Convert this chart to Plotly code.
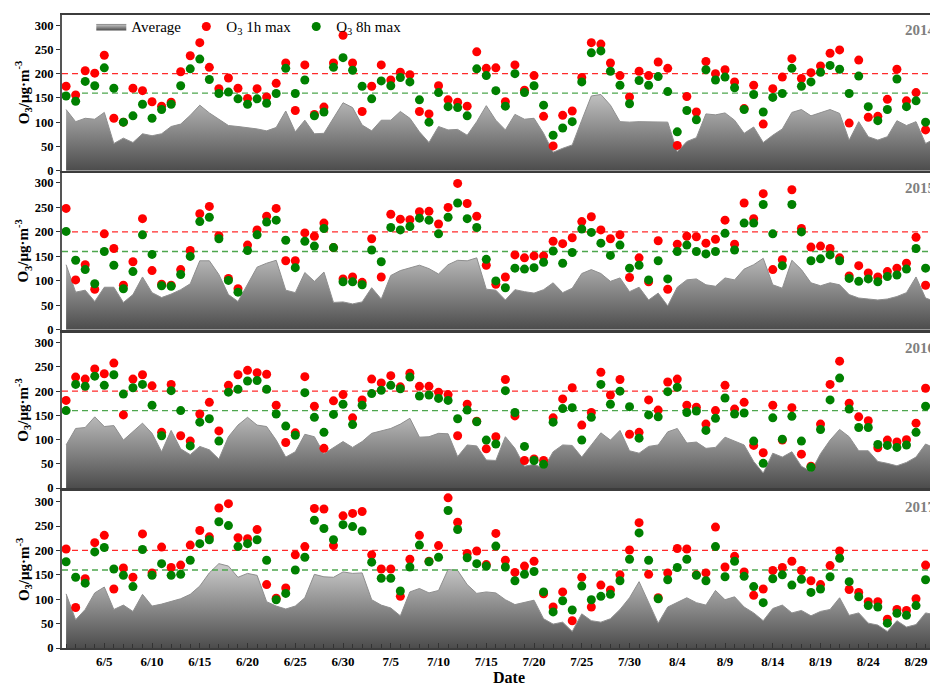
import pandas as pd
import plotly.graph_objects as go

# ---- data: daily O3 (µg/m³), 1 June – 31 August -------------------------
YEARS = [2014, 2015, 2016, 2017]
N_DAYS = 92

avg_2014 = [126, 101, 108, 106, 120, 56, 67, 58, 76, 72, 76, 91, 96, 114, 135, 119, 106, 93, 91, 89,
            86, 82, 89, 123, 80, 104, 76, 77, 108, 140, 130, 94, 82, 104, 104, 122, 108, 80, 58, 91,
            84, 85, 73, 101, 134, 104, 84, 116, 106, 108, 77, 38, 46, 53, 104, 154, 157, 135, 101, 100,
            101, 101, 101, 100, 39, 60, 68, 117, 115, 119, 104, 77, 90, 58, 73, 86, 120, 126, 113, 120,
            126, 118, 63, 101, 70, 63, 70, 103, 93, 101, 56, 66]
h1_2014 = [174, 156, 206, 201, 238, 108, 100, 170, 165, 142, 133, 141, 204, 237, 264, 213, 169, 191, 170, 149,
           169, 152, 180, 222, 124, 218, 116, 131, 222, 279, 222, 122, 174, 218, 187, 203, 198, 122, 117, 175,
           146, 141, 133, 245, 211, 212, 142, 218, 166, 196, 112, 51, 114, 123, 192, 264, 261, 222, 196, 152,
           205, 196, 224, 211, 52, 153, 121, 225, 200, 208, 183, 128, 176, 96, 169, 193, 231, 190, 202, 216,
           242, 249, 98, 228, 110, 112, 147, 209, 144, 161, 84, 110]
h8_2014 = [154, 143, 184, 175, 212, 170, 100, 113, 137, 108, 126, 137, 175, 210, 230, 188, 159, 162, 148, 137,
           148, 139, 159, 211, 159, 187, 113, 121, 213, 233, 207, 174, 148, 185, 175, 192, 183, 146, 100, 161,
           132, 130, 113, 210, 196, 165, 133, 200, 161, 175, 135, 73, 88, 101, 183, 243, 247, 205, 176, 138,
           186, 176, 194, 163, 80, 124, 105, 208, 187, 193, 171, 126, 157, 121, 151, 159, 211, 174, 183, 203,
           217, 209, 159, 195, 132, 103, 126, 189, 132, 144, 100, 95]

avg_2015 = [133, 77, 81, 58, 87, 87, 56, 72, 108, 76, 66, 73, 82, 94, 141, 141, 113, 72, 58, 92,
            128, 136, 142, 81, 76, 117, 99, 118, 56, 57, 53, 57, 86, 63, 111, 121, 126, 132, 125, 114,
            133, 142, 141, 147, 83, 81, 61, 82, 78, 75, 82, 96, 76, 85, 115, 123, 115, 99, 106, 78,
            87, 61, 75, 49, 87, 102, 104, 92, 89, 106, 102, 124, 133, 146, 92, 85, 142, 123, 96, 90,
            96, 92, 72, 65, 63, 61, 63, 68, 76, 108, 65, 58]
h1_2015 = [248, 102, 133, 83, 196, 166, 91, 139, 227, 121, 93, 91, 123, 162, 237, 252, 192, 105, 84, 173,
           204, 232, 248, 141, 141, 198, 191, 218, 168, 104, 108, 97, 186, 108, 236, 226, 225, 241, 242, 216,
           250, 299, 258, 232, 132, 93, 108, 153, 147, 151, 151, 181, 176, 188, 221, 231, 204, 186, 194, 107,
           147, 98, 182, 83, 175, 191, 190, 177, 185, 224, 175, 259, 227, 278, 123, 143, 286, 207, 169, 171,
           166, 147, 110, 131, 116, 108, 119, 126, 136, 189, 91, 150]
h8_2015 = [201, 142, 123, 94, 160, 132, 84, 119, 194, 154, 90, 89, 113, 150, 221, 230, 186, 101, 77, 162,
           194, 220, 224, 183, 127, 181, 171, 207, 168, 98, 98, 92, 163, 139, 209, 204, 211, 228, 224, 196,
           230, 259, 227, 209, 144, 100, 86, 126, 124, 127, 138, 161, 136, 158, 206, 199, 177, 152, 173, 126,
           132, 102, 141, 104, 160, 173, 160, 155, 160, 197, 163, 218, 218, 256, 196, 131, 256, 200, 141, 145,
           153, 141, 105, 99, 104, 98, 109, 112, 124, 166, 126, 130]

avg_2016 = [89, 123, 125, 147, 127, 129, 99, 116, 134, 113, 75, 119, 81, 69, 86, 79, 60, 106, 130, 146,
            130, 127, 99, 64, 75, 111, 106, 71, 84, 96, 84, 96, 113, 118, 123, 132, 144, 105, 106, 113,
            112, 65, 89, 87, 58, 57, 106, 82, 45, 49, 41, 75, 89, 88, 64, 89, 114, 99, 119, 77,
            72, 86, 89, 116, 123, 93, 95, 82, 84, 105, 97, 89, 55, 31, 72, 64, 75, 45, 34, 71,
            99, 121, 106, 77, 77, 55, 51, 46, 53, 64, 91, 82]
h1_2016 = [181, 229, 225, 246, 236, 258, 151, 225, 234, 211, 115, 214, 108, 97, 153, 177, 118, 212, 234, 243,
           238, 235, 171, 94, 114, 230, 169, 82, 180, 193, 145, 182, 225, 217, 232, 209, 237, 210, 210, 198,
           193, 108, 173, 138, 81, 106, 224, 149, 57, 60, 57, 145, 184, 207, 130, 156, 239, 192, 224, 111,
           115, 182, 161, 219, 225, 171, 167, 132, 160, 212, 163, 177, 88, 73, 171, 99, 166, 70, 45, 132,
           214, 262, 175, 147, 139, 83, 99, 95, 100, 134, 206, 170]
h8_2016 = [160, 214, 210, 231, 212, 234, 194, 207, 214, 171, 108, 201, 160, 87, 136, 143, 97, 198, 204, 221,
           222, 204, 153, 128, 109, 197, 146, 115, 152, 173, 131, 171, 195, 202, 212, 205, 229, 190, 192, 185,
           181, 143, 161, 137, 99, 91, 201, 156, 86, 57, 49, 136, 164, 166, 99, 146, 214, 173, 200, 168,
           103, 151, 147, 199, 208, 156, 159, 119, 144, 186, 153, 155, 97, 51, 145, 101, 148, 97, 43, 121,
           182, 227, 163, 125, 125, 90, 88, 84, 89, 115, 169, 150]

avg_2017 = [111, 58, 79, 113, 125, 79, 88, 75, 110, 86, 90, 96, 101, 110, 127, 154, 173, 168, 145, 153,
            149, 95, 86, 80, 86, 103, 151, 146, 145, 156, 153, 154, 99, 88, 82, 66, 115, 122, 113, 118,
            161, 159, 130, 112, 115, 113, 99, 89, 93, 98, 60, 49, 53, 34, 70, 56, 53, 60, 79, 103,
            136, 93, 51, 84, 93, 103, 93, 88, 118, 99, 105, 84, 72, 56, 81, 88, 72, 77, 66, 75,
            79, 103, 67, 72, 51, 47, 34, 56, 43, 48, 72, 68]
h1_2017 = [203, 83, 142, 216, 231, 121, 164, 145, 234, 154, 207, 165, 170, 211, 241, 228, 287, 296, 226, 224,
           243, 130, 102, 123, 191, 208, 286, 285, 210, 271, 276, 280, 191, 162, 162, 106, 182, 231, 178, 210,
           308, 258, 194, 199, 171, 235, 180, 155, 168, 178, 111, 84, 115, 56, 145, 84, 129, 119, 150, 201,
           257, 151, 103, 154, 204, 203, 150, 154, 248, 166, 188, 156, 108, 121, 159, 165, 178, 159, 138, 130,
           169, 199, 120, 114, 95, 95, 59, 79, 77, 101, 170, 150]
h8_2017 = [177, 145, 133, 197, 206, 162, 149, 126, 202, 149, 173, 149, 151, 180, 214, 222, 259, 251, 208, 214,
           222, 180, 99, 112, 160, 186, 262, 245, 222, 253, 249, 240, 176, 143, 143, 117, 166, 211, 177, 186,
           282, 243, 185, 173, 168, 209, 166, 138, 151, 157, 115, 74, 97, 78, 127, 99, 106, 110, 138, 182,
           236, 180, 101, 140, 165, 182, 149, 138, 208, 146, 178, 147, 126, 93, 142, 150, 129, 141, 114, 121,
           146, 184, 136, 105, 87, 84, 51, 71, 67, 87, 140, 130]

AVG = {2014: avg_2014, 2015: avg_2015, 2016: avg_2016, 2017: avg_2017}
H1 = {2014: h1_2014, 2015: h1_2015, 2016: h1_2016, 2017: h1_2017}
H8 = {2014: h8_2014, 2015: h8_2015, 2016: h8_2016, 2017: h8_2017}

LIMIT_1H = 200   # 1-hour standard
LIMIT_8H = 160   # 8-hour standard
Y_TICKS = [0, 50, 100, 150, 200, 250, 300]

# ---- geometry -------------------------------------------------------------
W, H = 930, 684
LEFT, RIGHT, TOP, BOTTOM = 61.7, 930.0, 15.0, 648.3
PANELS_PX = [(15.0, 170.7), (172.7, 330.0), (332.7, 488.3), (491.7, 648.3)]
FIRST_PX, PX_PER_DAY = 65.8, 9.553


def yfrac(py):
    return (BOTTOM - py) / (BOTTOM - TOP)


def xfrac(px):
    return (px - LEFT) / (RIGHT - LEFT)


SERIF = "Times New Roman, Liberation Serif, serif"
RED, GREEN = "#ff0000", "#008000"

fig = go.Figure()
layout = {}

for k, year in enumerate(YEARS):
    sfx = "" if k == 0 else str(k + 1)
    xa, ya = "x" + sfx, "y" + sfx
    day0 = pd.Timestamp(f"{year}-06-01")
    dates = pd.date_range(day0, periods=N_DAYS, freq="D")
    x0 = day0 - pd.Timedelta(days=(FIRST_PX - LEFT) / PX_PER_DAY)
    x1 = day0 + pd.Timedelta(days=(RIGHT - FIRST_PX) / PX_PER_DAY)
    first = k == 0

    fig.add_trace(go.Scatter(
        x=dates, y=AVG[year], mode="lines", name="Average",
        line=dict(color="#8e8e8e", width=1),
        fill="tozeroy",
        fillgradient=dict(type="vertical", start=0, stop=165,
                          colorscale=[[0, "#4c4c4c"], [1, "#c6c6c6"]]),
        showlegend=first, legendgroup="avg", xaxis=xa, yaxis=ya))

    for lim, col in ((LIMIT_1H, "#ff2b2b"), (LIMIT_8H, "#4ea64e")):
        fig.add_trace(go.Scatter(
            x=[x0, x1], y=[lim, lim], mode="lines",
            line=dict(color=col, width=1.3, dash="6px,4px"),
            showlegend=False, hoverinfo="skip", xaxis=xa, yaxis=ya))

    fig.add_trace(go.Scatter(
        x=dates, y=H1[year], mode="markers", name="O<sub>3</sub> 1h max",
        marker=dict(color=RED, size=9, line=dict(width=0)),
        showlegend=first, legendgroup="h1", xaxis=xa, yaxis=ya))
    fig.add_trace(go.Scatter(
        x=dates, y=H8[year], mode="markers", name="O<sub>3</sub> 8h max",
        marker=dict(color=GREEN, size=9, line=dict(width=0)),
        showlegend=first, legendgroup="h8", xaxis=xa, yaxis=ya))

    top_px, bot_px = PANELS_PX[k]
    bottom_panel = k == len(YEARS) - 1
    layout["xaxis" + sfx] = dict(
        type="date", range=[x0, x1], domain=[0, 1], anchor=ya,
        showline=True, mirror=True, linecolor="#3c3c3c", linewidth=2,
        showgrid=False, zeroline=False,
        showticklabels=bottom_panel,
        ticks="inside" if bottom_panel else "",
        tick0=f"{year}-06-05", dtick=5 * 86400000, tickformat="%-m/%-d",
        ticklen=5, tickwidth=1, tickcolor="#333333",
        minor=dict(dtick=86400000, ticks="inside" if bottom_panel else "",
                   ticklen=4, tickcolor="#333333"),
        tickfont=dict(family=SERIF, size=13, color="#000000", weight="bold"),
    )
    layout["yaxis" + sfx] = dict(
        domain=[yfrac(bot_px), yfrac(top_px)], anchor=xa, range=[0, 321],
        showline=True, mirror=False, linecolor="#555555", linewidth=2,
        showgrid=False, zeroline=False,
        tickvals=Y_TICKS, ticks="outside", ticklen=4, tickcolor="#333333",
        tickfont=dict(family=SERIF, size=12.5, color="#000000", weight="bold"),
    )

annotations = []
for k, year in enumerate(YEARS):
    sfx = "" if k == 0 else str(k + 1)
    top_px, bot_px = PANELS_PX[k]
    annotations.append(dict(
        text=str(year), xref="paper", yref=f"y{sfx} domain",
        x=xfrac(903), y=1 - 15.5 / (bot_px - top_px), xanchor="left", yanchor="middle",
        showarrow=False, font=dict(family=SERIF, size=15, color="#808080", weight="bold")))
    annotations.append(dict(
        text="O<sub>3</sub>/μg·m<sup>-3</sup>", textangle=-90,
        xref="paper", yref=f"y{sfx} domain", x=xfrac(23), y=0.5,
        xanchor="center", yanchor="middle", showarrow=False,
        font=dict(family=SERIF, size=15, color="#000000", weight="bold")))
annotations.append(dict(
    text="Date", xref="paper", yref="paper", x=xfrac(508.7), y=yfrac(678),
    xanchor="center", yanchor="middle", showarrow=False,
    font=dict(family=SERIF, size=16, color="#000000", weight="bold")))

fig.update_layout(
    width=W, height=H,
    margin=dict(l=LEFT, r=W - RIGHT, t=TOP, b=H - BOTTOM, pad=0),
    paper_bgcolor="#ffffff", plot_bgcolor="#ffffff",
    legend=dict(orientation="h", x=xfrac(91), y=yfrac(26.7),
                xanchor="left", yanchor="middle",
                bgcolor="rgba(0,0,0,0)", borderwidth=0,
                font=dict(family=SERIF, size=15, color="#000000")),
    annotations=annotations,
    **layout,
)

fig.write_html("out.html")
